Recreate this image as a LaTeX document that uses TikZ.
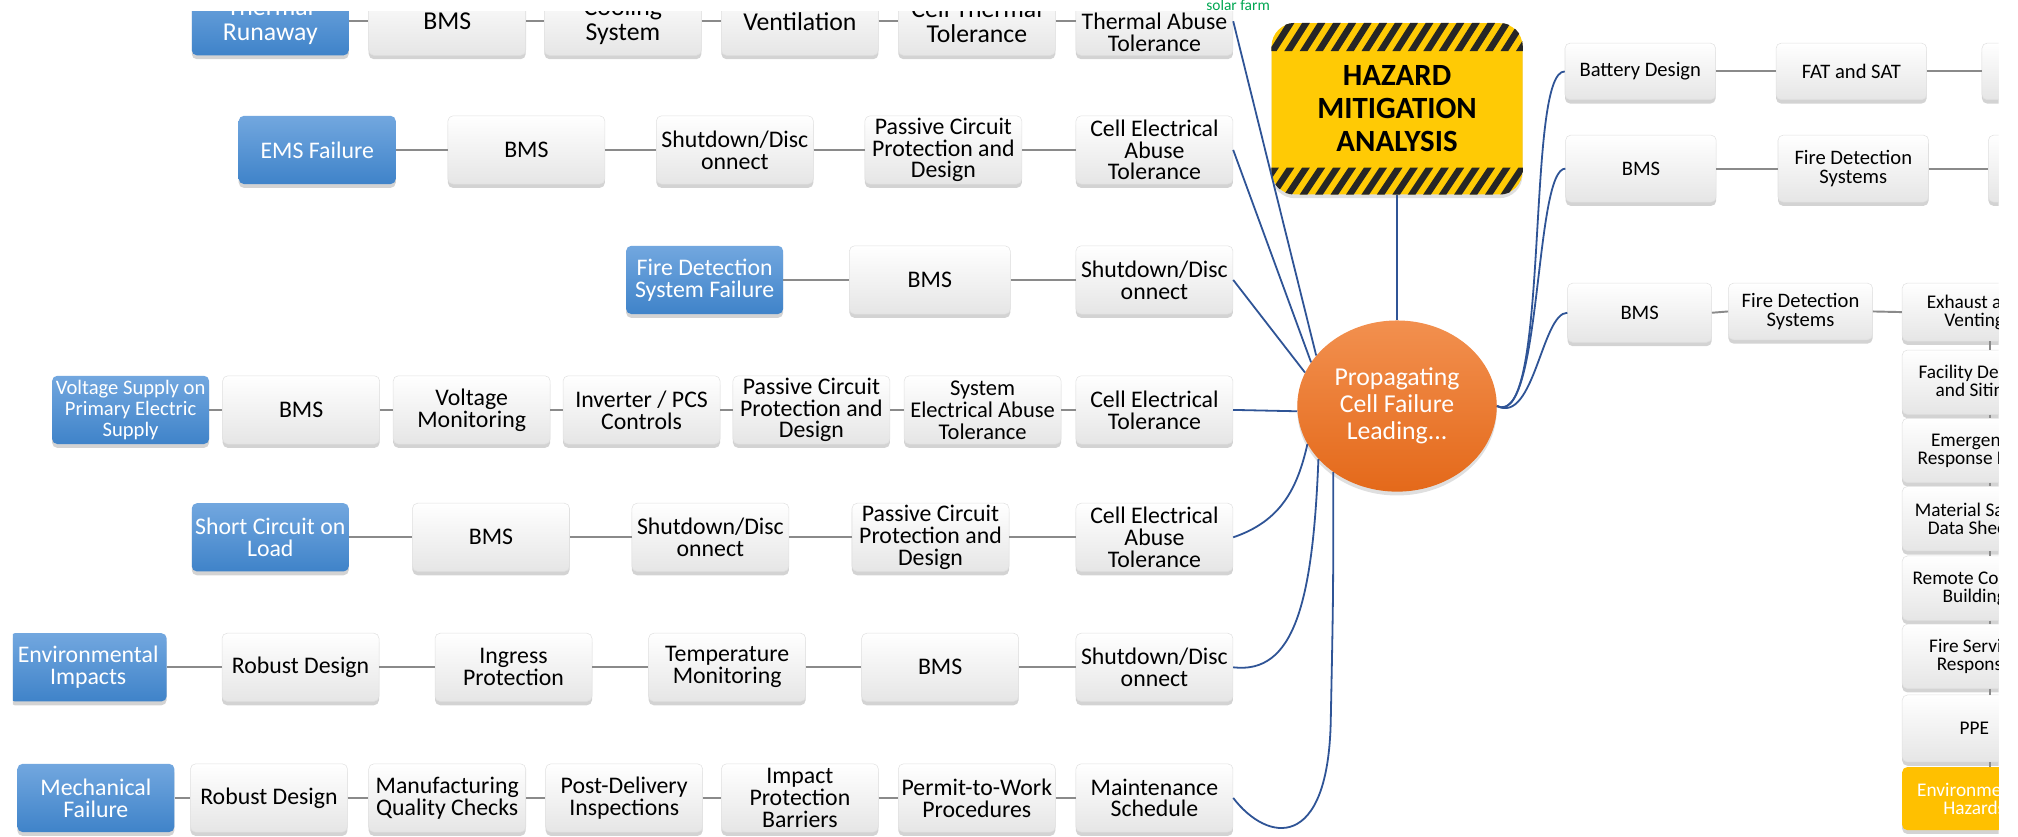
\documentclass[tikz,border=0pt]{standalone}
\usepackage{fontspec}
\setmainfont{Carlito}
\usetikzlibrary{positioning,shadows,shapes.geometric,calc}

\definecolor{causetop}{HTML}{72A7DF}
\definecolor{causebot}{HTML}{3F83C9}
\definecolor{linegray}{HTML}{8A8A8A}
\definecolor{navy}{HTML}{2F5496}
\definecolor{orangetop}{HTML}{F2904F}
\definecolor{orangebot}{HTML}{E4691A}
\definecolor{hazyellow}{HTML}{FFCA05}
\definecolor{gold}{HTML}{FFC000}
\definecolor{solargreen}{HTML}{00A651}

\newcommand\fsz[2]{\fontsize{#1}{#2}\selectfont}

\tikzset{
  box/.style={draw=black!12, rounded corners=4pt, top color=white, bottom color=black!10,
    align=center, inner sep=1pt, minimum width=122pt, minimum height=53pt,
    font=\fsz{18.5}{17}, drop shadow={shadow xshift=0pt, shadow yshift=-3pt, opacity=.35}},
  topbox/.style={box, font=\fsz{20}{19}},
  cause/.style={box, draw=none, top color=causetop, bottom color=causebot, text=white},
  rbox/.style={box, minimum width=117pt, minimum height=44pt, font=\fsz{16}{15}},
  cbox/.style={box, minimum width=112pt, minimum height=50pt, font=\fsz{15}{14}},
  conn/.style={draw=linegray, line width=1.5pt},
  link/.style={draw=navy, line width=1.4pt},
}

\begin{document}
\begin{tikzpicture}[x=1pt,y=-1pt]
  \useasboundingbox (0,0) rectangle (1568,650);

  \begin{scope}
    \clip (10,9) rectangle (1553,650);

    % hub
    \node[draw=none, rounded corners=18pt, fill=hazyellow, minimum width=195pt, minimum height=133pt,
      align=center, font=\bfseries\fsz{24}{25.5},
      drop shadow={shadow xshift=0pt, shadow yshift=-3pt, opacity=.25}] (haz) at (1085.5,84.5)
      {HAZARD\\MITIGATION\\ANALYSIS};
    \begin{scope}
      \clip[rounded corners=18pt] (haz.south west) rectangle (haz.north east);
      \foreach \i in {0,...,18} {
        \fill[black!85] ($(haz.north west)+(\i*12-14,22)$) -- ++(6,0) -- ++(14,-22) -- ++(-6,0) -- cycle;
        \fill[black!85] ($(haz.south west)+(\i*12-14,0)$) -- ++(6,0) -- ++(14,-21) -- ++(-6,0) -- cycle;
      }
    \end{scope}
    \node[ellipse, draw=none, top color=orangetop, bottom color=orangebot, minimum width=155pt,
      minimum height=133pt, inner sep=0pt, align=center, text=white, font=\fsz{20}{21},
      drop shadow={shadow xshift=0pt, shadow yshift=-3pt, opacity=.25}] (prop) at (1085.5,315.5)
      {Propagating\\Cell Failure\\Leading...};
    \draw[link] (haz.south) -- (prop.north);

    % thermal runaway
    \node[cause, font=\fsz{20}{19}] (tr) at (210,16.5) {Thermal\\Runaway};
    \node[topbox] (tr1) at (347.5,16.5) {BMS};
    \node[topbox] (tr2) at (484,16.5) {Cooling\\System};
    \node[topbox] (tr3) at (621.5,16.5) {Ventilation};
    \node[topbox] (tr4) at (759,16.5) {Cell Thermal\\Tolerance};
    \node[box] (tr5) at (897,16.5) {Cell\\Thermal Abuse\\Tolerance};

    % ems failure
    \node[cause] (ems) at (246.5,116.5) {EMS Failure};
    \node[box] (ems1) at (409,116.5) {BMS};
    \node[box] (ems2) at (571,116.5) {Shutdown/Disc\\onnect};
    \node[box] (ems3) at (733,116.5) {Passive Circuit\\Protection and\\Design};
    \node[box] (ems4) at (897,116.5) {Cell Electrical\\Abuse\\Tolerance};

    % fire detection
    \node[cause] (fds) at (547.5,217.5) {Fire Detection\\System Failure};
    \node[box, minimum width=125pt] (fds1) at (722.5,217.5) {BMS};
    \node[box] (fds2) at (897,217.5) {Shutdown/Disc\\onnect};

    % voltage supply
    \node[cause, font=\fsz{16}{16.5}] (vs) at (101.5,318.5) {Voltage Supply on\\Primary Electric\\Supply};
    \node[box] (vs1) at (234,318.5) {BMS};
    \node[box] (vs2) at (366.5,318.5) {Voltage\\Monitoring};
    \node[box] (vs3) at (498.5,318.5) {Inverter / PCS\\Controls};
    \node[box] (vs4) at (630.5,318.5) {Passive Circuit\\Protection and\\Design};
    \node[box, font=\fsz{17.5}{17}] (vs5) at (763.5,318.5) {System\\Electrical Abuse\\Tolerance};
    \node[box] (vs6) at (897,318.5) {Cell Electrical\\Tolerance};

    % short circuit
    \node[cause] (sc) at (210,417.5) {Short Circuit on\\Load};
    \node[box] (sc1) at (381.5,417.5) {BMS};
    \node[box] (sc2) at (552,417.5) {Shutdown/Disc\\onnect};
    \node[box] (sc3) at (723,417.5) {Passive Circuit\\Protection and\\Design};
    \node[box] (sc4) at (897,417.5) {Cell Electrical\\Abuse\\Tolerance};

    % environmental
    \node[cause] (env) at (68.5,518.5) {Environmental\\Impacts};
    \node[box] (env1) at (233.5,518.5) {Robust Design};
    \node[box] (env2) at (399,518.5) {Ingress\\Protection};
    \node[box] (env3) at (565,518.5) {Temperature\\Monitoring};
    \node[box] (env4) at (730.5,518.5) {BMS};
    \node[box] (env5) at (897,518.5) {Shutdown/Disc\\onnect};

    % mechanical
    \node[cause] (mech) at (74.5,620) {Mechanical\\Failure};
    \node[box] (mech1) at (209,620) {Robust Design};
    \node[box] (mech2) at (347.5,620) {Manufacturing\\Quality Checks};
    \node[box] (mech3) at (485,620) {Post-Delivery\\Inspections};
    \node[box] (mech4) at (621.5,620) {Impact\\Protection\\Barriers};
    \node[box] (mech5) at (759,620) {Permit-to-Work\\Procedures};
    \node[box] (mech6) at (897,620) {Maintenance\\Schedule};

    % right side
    \node[rbox] (bd) at (1274.5,55.5) {Battery Design};
    \node[rbox] (bd1) at (1438.5,55.5) {FAT and SAT};
    \node[rbox] (bd2) at (1598.5,55.5) {};
    \node[rbox, minimum height=52pt] (bm) at (1275,131) {BMS};
    \node[rbox, minimum height=52pt] (bm1) at (1440,131) {Fire Detection\\Systems};
    \node[rbox, minimum height=52pt] (bm2) at (1603.5,131) {};
    \node[rbox, minimum width=112pt, minimum height=46pt] (bx) at (1274,243) {BMS};
    \node[rbox, minimum width=112pt, minimum height=44pt] (bx1) at (1399,242) {Fire Detection\\Systems};

    % response column
    \coordinate (tick) at (1546,0);
    \node[cbox, minimum height=45pt] (ex) at (1534,242.5) {Exhaust and\\Venting};
    \node[cbox] (fac) at (1534,297) {Facility Design\\and Siting};
    \node[cbox] (emr) at (1534,350) {Emergency\\Response Plan};
    \node[cbox] (msd) at (1534,403) {Material Safety\\Data Sheets};
    \node[cbox] (rcb) at (1534,457) {Remote Control\\Building};
    \node[cbox] (fsr) at (1534,510) {Fire Service\\Response};
    \node[cbox, minimum height=52pt] (ppe) at (1534,566) {PPE};
    \node[cbox, draw=none, top color=gold, bottom color=gold, text=white, minimum height=49pt] (envh) at (1534,620.5) {Environmental\\Hazards};

    % connectors
    \foreach \a/\b in {tr/tr1,tr1/tr2,tr2/tr3,tr3/tr4,tr4/tr5,
        ems/ems1,ems1/ems2,ems2/ems3,ems3/ems4, fds/fds1,fds1/fds2,
        vs/vs1,vs1/vs2,vs2/vs3,vs3/vs4,vs4/vs5,vs5/vs6,
        sc/sc1,sc1/sc2,sc2/sc3,sc3/sc4,
        env/env1,env1/env2,env2/env3,env3/env4,env4/env5,
        mech/mech1,mech1/mech2,mech2/mech3,mech3/mech4,mech4/mech5,mech5/mech6,
        bd/bd1,bd1/bd2,bm/bm1,bm1/bm2,bx/bx1,bx1/ex}
      \draw[conn] (\a.east) -- (\b.west);
    \foreach \a/\b in {ex/fac,fac/emr,emr/msd,msd/rcb,rcb/fsr,fsr/ppe,ppe/envh}
      \draw[conn] (\a.south -| tick) -- (\b.north -| tick);

    % links to hub
    \draw[link] (tr5.east) -- (prop.148);
    \draw[link] (ems4.east) -- (prop.153);
    \draw[link] (fds2.east) -- (prop.160);
    \draw[link] (vs6.east) -- (prop.183);
    \draw[link] (sc4.east) .. controls (995,405) and (1008,380) .. (prop.203);
    \draw[link] (env5.east) .. controls (1005,524) and (1020,470) .. (prop.214);
    \draw[link] (mech6.east) .. controls (985,655) and (1032,662) .. (1034,560)
      .. controls (1036,460) .. (prop.226);
    \draw[link] (prop.east) .. controls (1205,335) and (1185,55) .. (bd.west);
    \draw[link] (prop.east) .. controls (1198,332) and (1192,131) .. (bm.west);
    \draw[link] (prop.east) .. controls (1192,330) and (1198,243) .. (bx.west);
  \end{scope}

  \node[text=solargreen, font=\fsz{12}{12}, inner sep=0pt] (solar) at (962,4) {solar farm};
\end{tikzpicture}
\end{document}
